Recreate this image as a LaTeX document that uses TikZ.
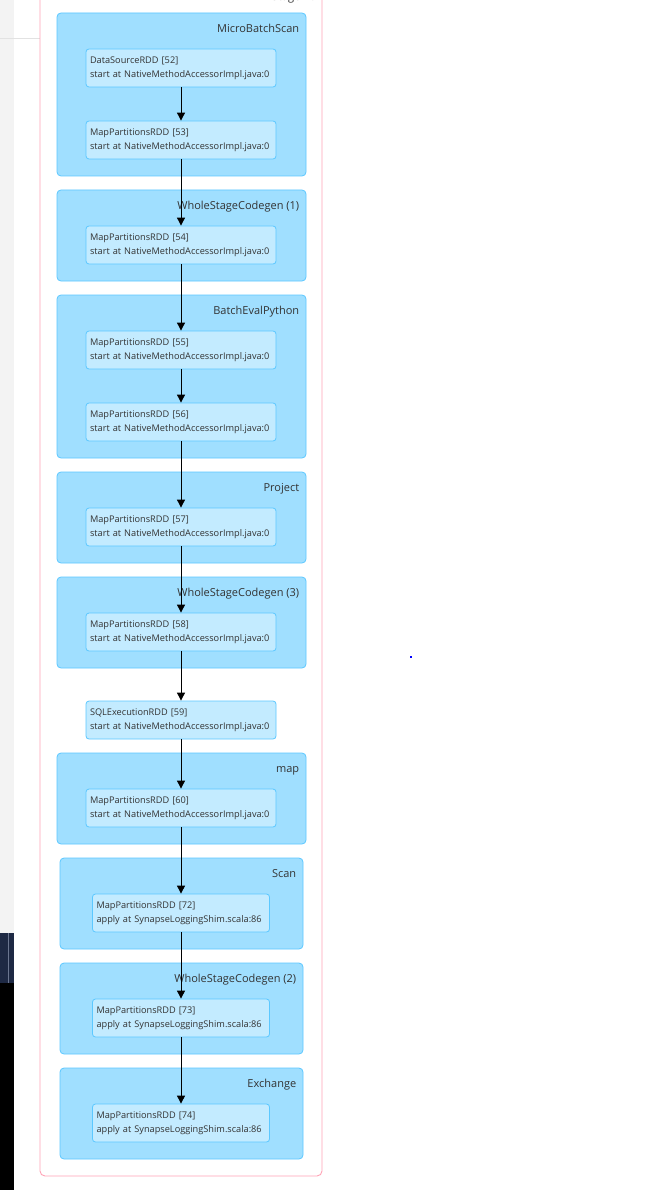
\documentclass[tikz,border=0pt]{standalone}
\usepackage{fontspec}
\setmainfont{Open Sans}
\usepackage{xcolor}
\usetikzlibrary{arrows.meta}
\definecolor{StagePink}{HTML}{FFA3B6}
\definecolor{ClusterBlue}{HTML}{A0DFFF}
\definecolor{RDDBlue}{HTML}{C3EBFF}
\definecolor{RDDBorder}{HTML}{5CC8FF}
\definecolor{TextGrey}{HTML}{333333}
\definecolor{PanelGrey}{HTML}{F3F3F3}
\definecolor{PanelLine}{HTML}{E2E2E2}
\definecolor{DarkNavy}{HTML}{1E2944}
\definecolor{NavyLine}{HTML}{6B7690}

\begin{document}
\begin{tikzpicture}[x=1pt, y=-1pt,
  stagebox/.style={draw=StagePink, rounded corners=5pt, line width=0.9pt},
  cluster/.style={draw=RDDBorder, fill=ClusterBlue, rounded corners=4pt,
    line width=0.8pt, minimum width=249pt, inner sep=0pt},
  rdd/.style={draw=RDDBorder, fill=RDDBlue, rounded corners=3pt, line width=0.8pt,
    minimum height=38pt, text width=182pt, inner xsep=4pt, align=left,
    font=\fontsize{9.2}{14}\selectfont, text=TextGrey},
  clabel/.style={anchor=base east, inner sep=0pt,
    font=\fontsize{11}{13}\selectfont, text=TextGrey},
  flow/.style={-{Triangle[length=8pt,width=8pt]}, line width=0.9pt, black},
]
  \clip (0,0) rectangle (647,1190);
  \fill[white] (0,0) rectangle (647,1190);

  % browser side strip
  \fill[PanelGrey] (0,0) rectangle (14,933);
  \draw[PanelLine, line width=0.8pt] (0,38) -- (40,38);
  \fill[DarkNavy] (0,933) rectangle (14,983);
  \draw[NavyLine, line width=0.8pt] (8,933) -- (8,983);
  \fill[black] (0,983) rectangle (14,1190);
  \fill[blue] (410,656) rectangle (412,658);

  % stage
  \draw[stagebox] (40,-20) rectangle (322,1176);
  \node[clabel] (stagetitle) at (316,1) {Stage 46};

  % clusters
  \node[cluster, minimum height=163pt] (c1) at (181.5,94.5) {};
  \node[cluster, minimum height=91pt]  (c2) at (181.5,235.5) {};
  \node[cluster, minimum height=163pt] (c3) at (181.5,376.5) {};
  \node[cluster, minimum height=91pt]  (c4) at (181.5,517.5) {};
  \node[cluster, minimum height=91pt]  (c5) at (181.5,622.5) {};
  \node[cluster, minimum height=91pt]  (c7) at (181.5,798.5) {};
  \node[cluster, minimum height=91pt, minimum width=243pt] (c8) at (181.5,903.5) {};
  \node[cluster, minimum height=91pt, minimum width=243pt] (c9) at (181.5,1008.5) {};
  \node[cluster, minimum height=91pt, minimum width=243pt] (c10) at (181.5,1113.5) {};

  \node[clabel] at ([shift={(-7,20)}]c1.north east) {MicroBatchScan};
  \node[clabel] at ([shift={(-7,20)}]c2.north east) {WholeStageCodegen (1)};
  \node[clabel] at ([shift={(-7,20)}]c3.north east) {BatchEvalPython};
  \node[clabel] at ([shift={(-7,20)}]c4.north east) {Project};
  \node[clabel] at ([shift={(-7,20)}]c5.north east) {WholeStageCodegen (3)};
  \node[clabel] at ([shift={(-7,20)}]c7.north east) {map};
  \node[clabel] at ([shift={(-7,20)}]c8.north east) {Scan};
  \node[clabel] at ([shift={(-7,20)}]c9.north east) {WholeStageCodegen (2)};
  \node[clabel] at ([shift={(-7,20)}]c10.north east) {Exchange};

  % rdds
  \node[rdd] (r52) at (181,68)  {DataSourceRDD [52]\\start at NativeMethodAccessorImpl.java:0};
  \node[rdd] (r53) at (181,140) {MapPartitionsRDD [53]\\start at NativeMethodAccessorImpl.java:0};
  \node[rdd] (r54) at (181,245) {MapPartitionsRDD [54]\\start at NativeMethodAccessorImpl.java:0};
  \node[rdd] (r55) at (181,350) {MapPartitionsRDD [55]\\start at NativeMethodAccessorImpl.java:0};
  \node[rdd] (r56) at (181,422) {MapPartitionsRDD [56]\\start at NativeMethodAccessorImpl.java:0};
  \node[rdd] (r57) at (181,527) {MapPartitionsRDD [57]\\start at NativeMethodAccessorImpl.java:0};
  \node[rdd] (r58) at (181,632) {MapPartitionsRDD [58]\\start at NativeMethodAccessorImpl.java:0};
  \node[rdd] (r59) at (181,720) {SQLExecutionRDD [59]\\start at NativeMethodAccessorImpl.java:0};
  \node[rdd] (r60) at (181,808) {MapPartitionsRDD [60]\\start at NativeMethodAccessorImpl.java:0};
  \node[rdd, text width=169pt] (r72) at (181,913)  {MapPartitionsRDD [72]\\apply at SynapseLoggingShim.scala:86};
  \node[rdd, text width=169pt] (r73) at (181,1018) {MapPartitionsRDD [73]\\apply at SynapseLoggingShim.scala:86};
  \node[rdd, text width=169pt] (r74) at (181,1123) {MapPartitionsRDD [74]\\apply at SynapseLoggingShim.scala:86};

  \draw[flow] (r52) -- (r53);
  \draw[flow] (r53) -- (r54);
  \draw[flow] (r54) -- (r55);
  \draw[flow] (r55) -- (r56);
  \draw[flow] (r56) -- (r57);
  \draw[flow] (r57) -- (r58);
  \draw[flow] (r58) -- (r59);
  \draw[flow] (r59) -- (r60);
  \draw[flow] (r60) -- (r72);
  \draw[flow] (r72) -- (r73);
  \draw[flow] (r73) -- (r74);
\end{tikzpicture}
\end{document}
